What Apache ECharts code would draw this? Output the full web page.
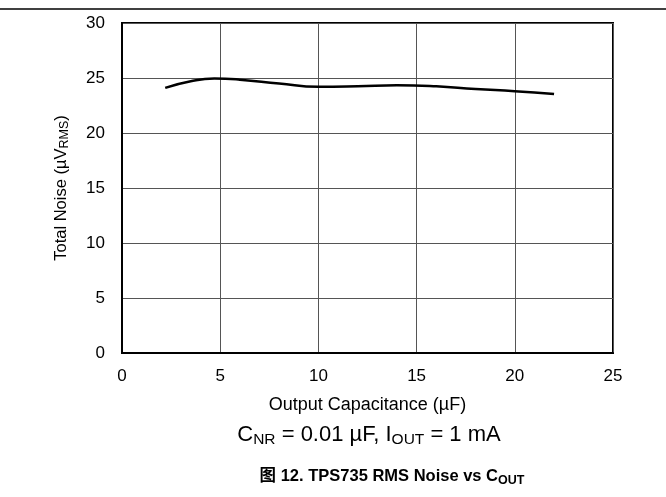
<!DOCTYPE html>
<html><head><meta charset="utf-8">
<script src="https://cdn.jsdelivr.net/npm/echarts@6/dist/echarts.min.js"></script>
<style>html,body{margin:0;padding:0;background:#fff}#c{width:666px;height:497px}</style>
</head><body><div id="c"></div>
<script>
var capacitance = [2.2, 3.5, 4.7, 6, 8, 10, 12, 14, 16, 18, 20, 22];
var noise = [24.1, 24.7, 24.95, 24.85, 24.5, 24.2, 24.25, 24.35, 24.25, 24.0, 23.8, 23.55];
var xTicks = {min: 0, max: 25, interval: 5};
var yTicks = {min: 0, max: 30, interval: 5};
var F = "'Liberation Sans', Arial, 'Noto Sans CJK SC', sans-serif";
var chart = echarts.init(document.getElementById('c'));
chart.setOption({
  animation: false,
  grid: {left: 122, right: 53, top: 23, bottom: 144, show: true, borderColor: '#000', borderWidth: 2},
  xAxis: {
    type: 'value', min: xTicks.min, max: xTicks.max, interval: xTicks.interval,
    axisLine: {show: true, lineStyle: {color: '#000', width: 2}},
    axisTick: {show: false},
    splitLine: {show: true, lineStyle: {color: '#555', width: 1}},
    axisLabel: {color: '#000', fontSize: 17, fontFamily: F, margin: 15},
    name: 'Output Capacitance (\u00b5F)', nameLocation: 'middle', nameGap: 43,
    nameTextStyle: {color: '#000', fontSize: 18, fontFamily: F}
  },
  yAxis: {
    type: 'value', min: yTicks.min, max: yTicks.max, interval: yTicks.interval,
    axisLine: {show: true, lineStyle: {color: '#000', width: 2}},
    axisTick: {show: false},
    splitLine: {show: true, lineStyle: {color: '#555', width: 1}},
    axisLabel: {color: '#000', fontSize: 17, fontFamily: F, margin: 17},
    name: '{a|Total Noise (\u00b5V}{s|RMS}{a|)}', nameLocation: 'middle', nameGap: 51,
    nameTextStyle: {color: '#000', fontSize: 16.5, fontFamily: F,
      rich: {a: {fontSize: 16.5, fontFamily: F, color: '#000'},
             s: {fontSize: 12.5, fontFamily: F, color: '#000', padding: [7, 0, 0, 0]}}}
  },
  title: [
    {text: '{a|C}{s|NR}{a| = 0.01 \u00b5F, I}{s|OUT}{a| = 1 mA}', left: 364, top: 418, textAlign: 'center',
     textStyle: {fontWeight: 'normal', rich: {a: {fontSize: 22, fontWeight: 'normal', fontFamily: F, color: '#000'},
                        s: {fontSize: 15.5, fontWeight: 'normal', fontFamily: F, color: '#000', padding: [9, 0, 0, 0]}}}},
    {text: '{a|\u56fe 12. TPS735 RMS Noise vs C}{s|OUT}', left: 387, top: 462, textAlign: 'center',
     textStyle: {rich: {a: {fontSize: 16.5, fontWeight: 'bold', fontFamily: F, color: '#000'},
                        s: {fontSize: 12.5, fontWeight: 'bold', fontFamily: F, color: '#000', padding: [7, 0, 0, 0]}}}}
  ],
  graphic: [{type: 'line', shape: {x1: 0, y1: 9, x2: 666, y2: 9}, style: {stroke: '#000', lineWidth: 1.5}}],
  series: [{
    type: 'line', smooth: true, symbol: 'none',
    data: capacitance.map(function (c, i) { return [c, noise[i]]; }),
    lineStyle: {color: '#000', width: 2.5}
  }]
});
</script></body></html>
